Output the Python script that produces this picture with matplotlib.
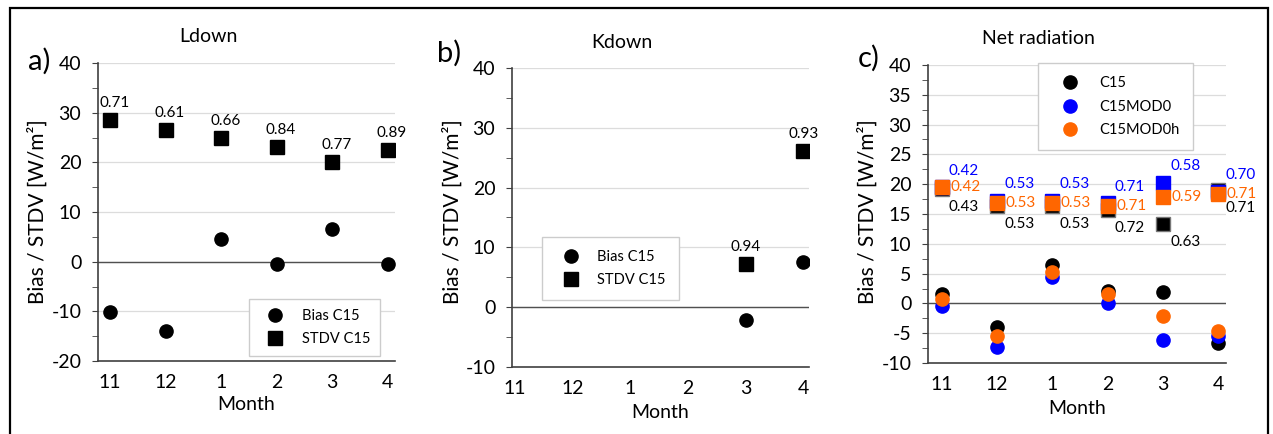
import numpy as np
import matplotlib.pyplot as plt
from matplotlib.patches import Rectangle
from matplotlib.ticker import MultipleLocator

plt.rcParams['font.family'] = ['Lato', 'DejaVu Sans']
plt.rcParams['axes.unicode_minus'] = False

months = ['11', '12', '1', '2', '3', '4']

# a) Ldown
ld_bias = [-10.1, -14.0, 4.5, -0.5, 6.5, -0.5]
ld_stdv = [28.6, 26.6, 25.0, 23.1, 20.1, 22.5]
ld_r = ['0.71', '0.61', '0.66', '0.84', '0.77', '0.89']

# b) Kdown (only March and April)
kd_bias = [np.nan, np.nan, np.nan, np.nan, -2.1, 7.5]
kd_stdv = [np.nan, np.nan, np.nan, np.nan, 7.2, 26.2]
kd_r = ['', '', '', '', '0.94', '0.93']

# c) Net radiation
nr_bias_c15 = [1.5, -4.0, 6.4, 2.1, 1.9, -6.6]
nr_bias_mod0 = [-0.4, -7.3, 4.4, 0.1, -6.1, -5.5]
nr_bias_mod0h = [0.7, -5.5, 5.3, 1.6, -2.1, -4.6]
nr_stdv_c15 = [19.2, 16.3, 16.4, 15.6, 13.3, 19.1]
nr_stdv_mod0 = [19.5, 17.2, 17.2, 16.8, 20.2, 18.7]
nr_stdv_mod0h = [19.5, 16.8, 16.8, 16.3, 17.9, 18.3]
nr_r_c15 = ['0.43', '0.53', '0.53', '0.72', '0.63', '0.71']
nr_r_mod0 = ['0.42', '0.53', '0.53', '0.71', '0.58', '0.70']
nr_r_mod0h = ['0.42', '0.53', '0.53', '0.71', '0.59', '0.71']

BLUE = '#0000ff'
ORANGE = '#ff6600'
W, H = 1273, 434

fig = plt.figure(figsize=(12.73, 4.34), dpi=100)


def px_axes(l, t, r, b):
    return fig.add_axes([l / W, 1 - b / H, (r - l) / W, (b - t) / H])


def style(ax, ylim, major, xlim):
    x = np.arange(len(months))
    ax.set_xlim(*xlim)
    ax.set_ylim(*ylim)
    ax.set_xticks(x)
    ax.set_xticklabels(months)
    ax.yaxis.set_major_locator(MultipleLocator(major))
    ax.yaxis.set_minor_locator(MultipleLocator(major / 2))
    ax.tick_params(axis='x', length=0, pad=9, labelsize=14)
    ax.tick_params(axis='y', which='both', direction='out', length=4,
                   color='#404040', pad=8, labelsize=14)
    for s in ['top', 'right']:
        ax.spines[s].set_visible(False)
    for s in ['left', 'bottom']:
        ax.spines[s].set_color('#404040')
        ax.spines[s].set_linewidth(1.2)
    ax.grid(axis='y', which='major', color='#dcdcdc', lw=0.9)
    ax.set_axisbelow(True)
    ax.axhline(0, color='#505050', lw=1.0, zorder=1)


def legend(ax, px, py, **kw):
    opts = dict(loc='upper left', bbox_to_anchor=(px / W, 1 - py / H),
                bbox_transform=fig.transFigure, borderaxespad=0, fancybox=False,
                edgecolor='#cccccc', fontsize=10.5, handletextpad=0.7,
                handlelength=2.2, borderpad=0.7, labelspacing=0.6, framealpha=1)
    opts.update(kw)
    ax.legend(**opts)


ms = 9.5
ann = 11

# ---- a) Ldown
ax1 = px_axes(98, 63, 395, 361)
style(ax1, (-20, 40), 10, (-0.22, 5.13))
x = np.arange(len(months))
ax1.plot(x, ld_bias, 'o', color='black', ms=ms, label='Bias C15', zorder=3)
ax1.plot(x, ld_stdv, 's', color='black', ms=ms, label='STDV C15', zorder=3)
for i in range(len(months)):
    ax1.annotate(ld_r[i], (x[i], ld_stdv[i]), xytext=(3, 12),
                 textcoords='offset points', ha='center', va='center', fontsize=ann)
legend(ax1, 249, 299)

# ---- b) Kdown
ax2 = px_axes(512, 68, 809, 367)
style(ax2, (-10, 40), 10, (-0.05, 5.1))
ax2.plot(x, kd_bias, 'o', color='black', ms=ms, label='Bias C15', zorder=3)
ax2.plot(x, kd_stdv, 's', color='black', ms=ms, label='STDV C15', zorder=3)
for i in range(len(months)):
    if kd_r[i]:
        ax2.annotate(kd_r[i], (x[i], kd_stdv[i]), xytext=(0, 12),
                     textcoords='offset points', ha='center', va='center', fontsize=ann)
legend(ax2, 542, 237, borderpad=0.9)

# ---- c) Net radiation
ax3 = px_axes(928, 65, 1226, 363)
style(ax3, (-10, 40), 5, (-0.25, 5.14))
ax3.plot(x, nr_bias_c15, 'o', color='black', ms=ms, label='C15', zorder=3)
ax3.plot(x, nr_bias_mod0, 'o', color=BLUE, ms=ms, label='C15MOD0', zorder=3)
ax3.plot(x, nr_bias_mod0h, 'o', color=ORANGE, ms=ms, label='C15MOD0h', zorder=3)
ax3.plot(x, nr_stdv_c15, 's', color='black', mec='#777777', ms=ms, zorder=3)
ax3.plot(x, nr_stdv_mod0, 's', color=BLUE, ms=ms, zorder=3)
ax3.plot(x, nr_stdv_mod0h, 's', color=ORANGE, ms=ms, zorder=3)
for i in range(len(months)):
    ax3.annotate(nr_r_mod0[i], (x[i], nr_stdv_mod0[i]), xytext=(16, 12),
                 textcoords='offset points', ha='center', va='center',
                 fontsize=ann, color=BLUE)
    ax3.annotate(nr_r_mod0h[i], (x[i], nr_stdv_mod0h[i]), xytext=(17, 0),
                 textcoords='offset points', ha='center', va='center',
                 fontsize=ann, color=ORANGE)
    ax3.annotate(nr_r_c15[i], (x[i], nr_stdv_c15[i]), xytext=(16, -13),
                 textcoords='offset points', ha='center', va='center',
                 fontsize=ann, color='black')
legend(ax3, 1038, 63, borderpad=0.9, handlelength=2.6, labelspacing=0.65)

# titles, panel letters, axis labels in figure pixels
def ftext(px, py, s, **kw):
    fig.text(px / W, 1 - py / H, s, **kw)

ylab = 'Bias / STDV [W/m\u00b2]'
ftext(208, 36, 'Ldown', ha='center', va='center', fontsize=14)
ftext(622, 43, 'Kdown', ha='center', va='center', fontsize=14)
ftext(1038, 38, 'Net radiation', ha='center', va='center', fontsize=14)
ftext(28, 61, 'a)', ha='left', va='center', fontsize=21)
ftext(437, 53, 'b)', ha='left', va='center', fontsize=21)
ftext(858, 58, 'c)', ha='left', va='center', fontsize=21)
for px in (38, 453, 868):
    ftext(px, 212, ylab, ha='center', va='center', rotation=90, fontsize=15)
ftext(246, 405, 'Month', ha='center', va='center', fontsize=14)
ftext(660, 413, 'Month', ha='center', va='center', fontsize=14)
ftext(1077, 409, 'Month', ha='center', va='center', fontsize=14)

# outer frame
fig.patches.append(Rectangle((10 / W, -0.02), (1268 - 10) / W, 1.02 - 8 / H,
                             transform=fig.transFigure, fill=False,
                             edgecolor='black', lw=1.6))

fig.savefig('out.png', dpi=100)
